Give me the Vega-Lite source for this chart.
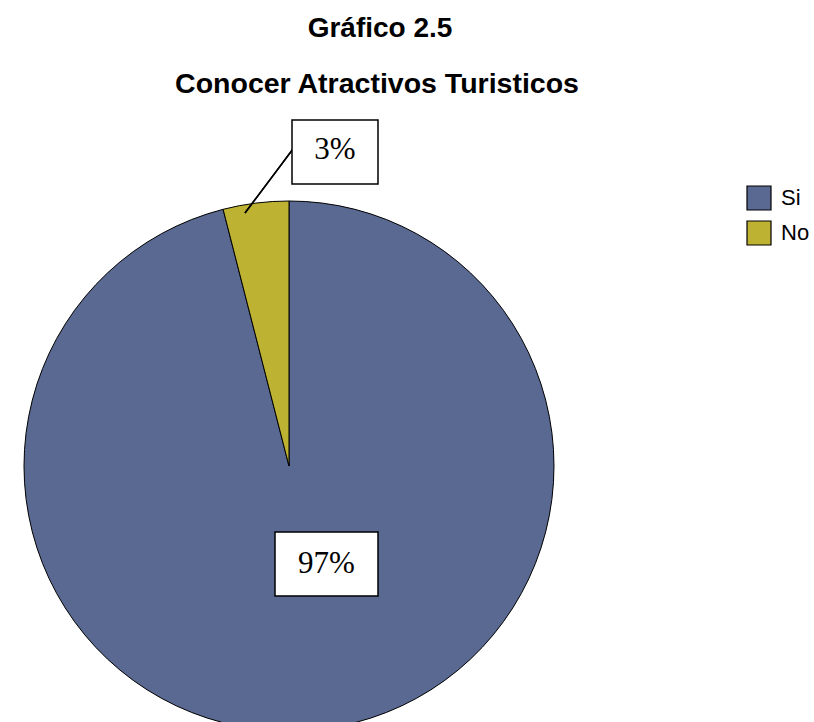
{
  "$schema": "https://vega.github.io/schema/vega-lite/v6.json",
  "width": 814,
  "height": 722,
  "padding": 0,
  "autosize": {"type": "none"},
  "background": "white",
  "config": {"view": {"stroke": null}},
  "data": {"values": [
    {"respuesta": "Si", "porcentaje": 96.0, "etiqueta": "97%", "orden": 1},
    {"respuesta": "No", "porcentaje": 4.0, "etiqueta": "3%", "orden": 2}
  ]},
  "layer": [
    {
      "mark": {"type": "arc", "outerRadius": 265, "stroke": "black", "strokeWidth": 1},
      "encoding": {
        "x": {"datum": 0, "type": "quantitative", "scale": {"domain": [-2.89, 5.25], "nice": false, "zero": false}, "axis": null},
        "y": {"datum": 0, "type": "quantitative", "scale": {"domain": [-2.56, 4.66], "nice": false, "zero": false}, "axis": null},
        "theta": {"field": "porcentaje", "type": "quantitative", "stack": true},
        "order": {"field": "orden"},
        "color": {
          "field": "respuesta", "type": "nominal",
          "scale": {"domain": ["Si", "No"], "range": ["#5A6992", "#BDB232"]},
          "legend": {
            "title": null, "orient": "none", "legendX": 746, "legendY": 185,
            "symbolType": "square", "symbolSize": 576, "symbolStrokeColor": "black", "symbolStrokeWidth": 1.2,
            "labelFont": "Liberation Sans", "labelFontSize": 22, "labelColor": "black",
            "rowPadding": 5, "labelOffset": 9
          }
        }
      }
    },
    {
      "mark": {"type": "rule", "stroke": "black", "strokeWidth": 1.5},
      "encoding": {
        "x": {"datum": -0.44, "type": "quantitative"},
        "y": {"datum": 2.53, "type": "quantitative"},
        "x2": {"datum": 0.04},
        "y2": {"datum": 3.17}
      }
    },
    {
      "transform": [{"filter": "datum.respuesta === 'No'"}],
      "mark": {"type": "rect", "fill": "white", "stroke": "black", "strokeWidth": 1.5},
      "encoding": {
        "x": {"datum": 0.03, "type": "quantitative"},
        "x2": {"datum": 0.89},
        "y": {"datum": 2.82, "type": "quantitative"},
        "y2": {"datum": 3.46}
      }
    },
    {
      "transform": [{"filter": "datum.respuesta === 'No'"}],
      "mark": {"type": "text", "font": "Liberation Serif", "fontSize": 31, "color": "black", "baseline": "middle", "align": "center"},
      "encoding": {
        "x": {"datum": 0.46, "type": "quantitative"},
        "y": {"datum": 3.16, "type": "quantitative"},
        "text": {"field": "etiqueta"}
      }
    },
    {
      "transform": [{"filter": "datum.respuesta === 'Si'"}],
      "mark": {"type": "rect", "fill": "white", "stroke": "black", "strokeWidth": 1.5},
      "encoding": {
        "x": {"datum": -0.14, "type": "quantitative"},
        "x2": {"datum": 0.89},
        "y": {"datum": -1.3, "type": "quantitative"},
        "y2": {"datum": -0.66}
      }
    },
    {
      "transform": [{"filter": "datum.respuesta === 'Si'"}],
      "mark": {"type": "text", "font": "Liberation Serif", "fontSize": 31, "color": "black", "baseline": "middle", "align": "center"},
      "encoding": {
        "x": {"datum": 0.375, "type": "quantitative"},
        "y": {"datum": -0.98, "type": "quantitative"},
        "text": {"field": "etiqueta"}
      }
    },
    {
      "transform": [{"filter": "datum.orden === 1"}],
      "mark": {"type": "text", "font": "Liberation Sans", "fontSize": 28, "fontWeight": "bold", "color": "black", "baseline": "alphabetic", "align": "center", "text": "Gráfico 2.5"},
      "encoding": {
        "x": {"datum": 0.91, "type": "quantitative"},
        "y": {"datum": 4.29, "type": "quantitative"}
      }
    },
    {
      "transform": [{"filter": "datum.orden === 1"}],
      "mark": {"type": "text", "font": "Liberation Sans", "fontSize": 28.5, "fontWeight": "bold", "color": "black", "baseline": "alphabetic", "align": "center", "text": "Conocer Atractivos Turisticos"},
      "encoding": {
        "x": {"datum": 0.88, "type": "quantitative"},
        "y": {"datum": 3.73, "type": "quantitative"}
      }
    }
  ]
}
